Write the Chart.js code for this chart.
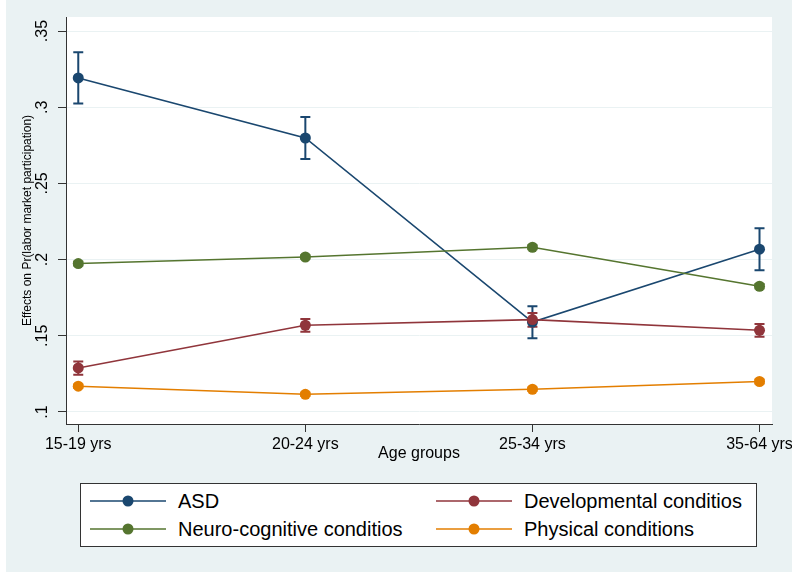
<!DOCTYPE html>
<html>
<head>
<meta charset="utf-8">
<script src="https://cdn.jsdelivr.net/npm/chart.js@4"></script>
<style>
  body { margin: 0; background: #fff; }
  #wrap { position: relative; width: 792px; height: 573px; }
  #bg { position: absolute; left: 6px; top: 0; width: 786px; height: 572px; background: #eaf2f3; }
  #chart { position: absolute; left: 0; top: 0; }
  #legend { position: absolute; left: 80px; top: 483px; width: 675px; height: 62px; background: #fff;
    border: 1px solid #333; font-family: 'Liberation Sans', Arial, sans-serif; font-size: 20px; color: #000; }
  .item { position: absolute; height: 24px; display: flex; align-items: center; white-space: nowrap; }
  .item svg { margin-right: 12px; }
</style>
</head>
<body>
<div id="wrap">
  <div id="bg"></div>
  <canvas id="chart" width="792" height="573"></canvas>
  <div id="legend"></div>
</div>
<script>
const categories = ['15-19 yrs', '20-24 yrs', '25-34 yrs', '35-64 yrs'];
const seriesNames = ['ASD', 'Developmental conditios', 'Neuro-cognitive conditios', 'Physical conditions'];
const seriesColors = ['#1a476f', '#90353b', '#55752f', '#e37e00'];

const asd = [0.3192, 0.2798, 0.1590, 0.2068];
const asdLo = [0.3024, 0.2660, 0.1483, 0.1930];
const asdHi = [0.3360, 0.2936, 0.1694, 0.2205];

const developmental = [0.1289, 0.1569, 0.1606, 0.1536];
const developmentalLo = [0.1245, 0.1527, 0.1560, 0.1494];
const developmentalHi = [0.1331, 0.1610, 0.1650, 0.1578];

const neuro = [0.1974, 0.2017, 0.2081, 0.1825];
const neuroLo = [0.1961, 0.2005, 0.2068, 0.1811];
const neuroHi = [0.1987, 0.2029, 0.2094, 0.1839];

const physical = [0.1169, 0.1116, 0.1149, 0.1200];
const physicalLo = [0.1157, 0.1104, 0.1137, 0.1187];
const physicalHi = [0.1181, 0.1128, 0.1161, 0.1213];

const yTicks = [0.1, 0.15, 0.2, 0.25, 0.3, 0.35];
const yTickLabels = ['.1', '.15', '.2', '.25', '.3', '.35'];

const values = [asd, developmental, neuro, physical];
const lows = [asdLo, developmentalLo, neuroLo, physicalLo];
const highs = [asdHi, developmentalHi, neuroHi, physicalHi];

const font = "'Liberation Sans', Arial, Helvetica, sans-serif";

// white plot region behind everything
const plotRegion = {
	id: 'plotRegion',
	beforeDraw(chart) {
		const {ctx, chartArea: a} = chart;
		ctx.save();
		ctx.fillStyle = '#fff';
		ctx.fillRect(a.left, a.top, a.right - a.left, a.bottom - a.top);
		ctx.restore();
	}
};

// confidence interval caps (rcap)
const errorBars = {
	id: 'errorBars',
	beforeDatasetsDraw(chart) {
		const {ctx, scales: {x, y}} = chart;
		ctx.save();
		chart.data.datasets.forEach((ds) => {
			ctx.strokeStyle = ds.borderColor;
			ctx.lineWidth = 2;
			ds.lo.forEach((lo, i) => {
				const px = x.getPixelForValue(i);
				const y1 = y.getPixelForValue(lo);
				const y2 = y.getPixelForValue(ds.hi[i]);
				ctx.beginPath();
				ctx.moveTo(px, y1); ctx.lineTo(px, y2);
				ctx.moveTo(px - 5, y1); ctx.lineTo(px + 5, y1);
				ctx.moveTo(px - 5, y2); ctx.lineTo(px + 5, y2);
				ctx.stroke();
			});
		});
		ctx.restore();
	}
};

const datasets = seriesNames.map((name, s) => ({
	label: name,
	data: values[s].map((v, i) => ({x: i, y: v})),
	lo: lows[s],
	hi: highs[s],
	borderColor: seriesColors[s],
	backgroundColor: seriesColors[s],
	pointBackgroundColor: seriesColors[s],
	pointBorderColor: seriesColors[s],
	pointRadius: 5.5,
	pointBorderWidth: 0,
	borderWidth: 1.6,
	lineTension: 0,
	order: seriesNames.length - s
}));

const ctx = document.getElementById('chart').getContext('2d');
const myChart = new Chart(ctx, {
	type: 'line',
	data: { datasets: datasets },
	plugins: [plotRegion, errorBars],
	options: {
		responsive: false,
		animation: false,
		layout: { padding: { left: 0, top: 17, right: 20, bottom: 109 } },
		plugins: {
			legend: { display: false },
			tooltip: { enabled: false }
		},
		scales: {
			x: {
				type: 'linear',
				min: -0.054,
				max: 3.055,
				afterBuildTicks: (scale) => { scale.ticks = categories.map((c, i) => ({value: i})); },
				afterFit: (scale) => { scale.height = 40; scale.paddingLeft = 0; scale.paddingRight = 0; },
				ticks: {
					autoSkip: false,
					maxRotation: 0,
					padding: 3,
					color: '#000',
					font: { family: font, size: 16 },
					callback: (v) => categories[v]
				},
				grid: { drawOnChartArea: false, drawTicks: true, tickLength: 8, tickColor: '#333' },
				border: { display: true, color: '#333', width: 1 },
				title: { display: true, text: 'Age groups', color: '#000', font: { family: font, size: 16 }, padding: { top: 0, bottom: 1 } }
			},
			y: {
				min: 0.0921,
				max: 0.3592,
				afterBuildTicks: (scale) => { scale.ticks = yTicks.map((v) => ({value: v})); },
				afterFit: (scale) => { scale.width = 66; scale.paddingTop = 0; scale.paddingBottom = 0; },
				ticks: {
					minRotation: 90,
					maxRotation: 90,
					crossAlign: 'center',
					padding: 4,
					color: '#000',
					font: { family: font, size: 16 },
					callback: (v) => yTickLabels[yTicks.indexOf(v)]
				},
				grid: { color: '#eaf2f3', lineWidth: 1, tickLength: 8, tickColor: '#333' },
				border: { display: true, color: '#333', width: 1 },
				title: { display: true, text: 'Effects on Pr(labor market participation)', color: '#000', font: { family: font, size: 12 }, padding: { top: 20, bottom: 0 } }
			}
		}
	}
});

// legend: two columns, Stata style
const legend = document.getElementById('legend');
seriesNames.forEach((name, i) => {
	const item = document.createElement('div');
	item.className = 'item';
	item.style.left = (i % 2 ? 355 : 9) + 'px';
	item.style.top = (i < 2 ? 5 : 33) + 'px';
	item.innerHTML = '<svg width="76" height="24"><line x1="0" y1="12" x2="76" y2="12" stroke="' + seriesColors[i] +
		'" stroke-width="1.6"/><circle cx="38" cy="12" r="5.5" fill="' + seriesColors[i] + '"/></svg><span>' + name + '</span>';
	legend.appendChild(item);
});
</script>
</body>
</html>
